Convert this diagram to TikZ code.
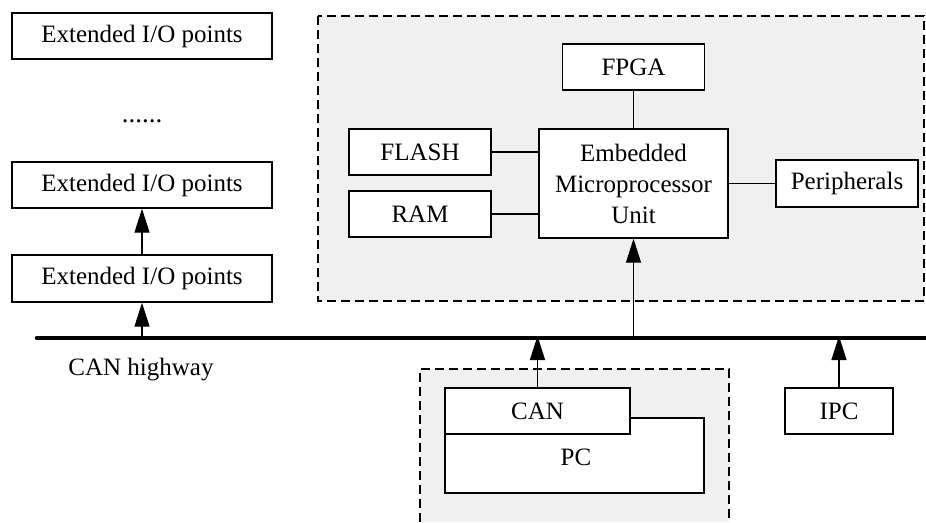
\documentclass[tikz,border=0pt]{standalone}
\usepackage{fontspec}
\setmainfont{Liberation Serif}
\usetikzlibrary{arrows.meta}
\definecolor{grpgray}{HTML}{F0F0F0}
\tikzset{
  box/.style={draw, fill=white, line width=1.4pt, inner sep=0pt, align=center},
  grp/.style={fill=grpgray, dash pattern=on 9pt off 5pt, line width=1.3pt},
  up/.style={-{Triangle[length=24pt,width=15pt]}, line width=1.3pt},
  wire/.style={line width=1.3pt},
}
\begin{document}
\begin{tikzpicture}[x=1pt,y=-1pt,font=\fontsize{25}{31}\selectfont]
\useasboundingbox (0,0) rectangle (926,522);
% dashed groups
\filldraw[grp] (318,16) rectangle (924,301);
\fill[grpgray] (420,369) rectangle (729,522);
\draw[grp] (420,522) -- (420,369) -- (729,369) -- (729,522);
% extended I/O
\node[box, minimum width=260, minimum height=46] (ext1) at (142,36) {Extended I/O points};
\node (dots) at (142,121) {\fontsize{27}{31}\selectfont ......};
\node[box, minimum width=260, minimum height=46] (ext2) at (142,185) {Extended I/O points};
\node[box, minimum width=260, minimum height=47] (ext3) at (142,278.5) {Extended I/O points};
% controller
\node[box, minimum width=189, minimum height=109] (mpu) at (633.5,183.5) {Embedded\\Microprocessor\\Unit};
\node[box, minimum width=142, minimum height=46] (fpga) at (633.5,67) {FPGA};
\node[box, minimum width=142, minimum height=46] (flash) at (420,152) {FLASH};
\node[box, minimum width=142, minimum height=46] (ram) at (420,214) {RAM};
\node[box, minimum width=142, minimum height=47] (periph) at (847,183.5) {Peripherals};
\draw[wire] (fpga) -- (mpu);
\draw[wire] (flash) -- (flash -| mpu.west);
\draw[wire] (ram) -- (ram -| mpu.west);
\draw[wire] (mpu) -- (periph);
% PC side
\node[box, minimum width=259, minimum height=75] (pc) at (574.5,455.5) {};
\node at (576,457) {PC};
\node[box, minimum width=185, minimum height=46] (can) at (537.5,411) {CAN};
\node[box, minimum width=108, minimum height=46] (ipc) at (839,411) {IPC};
% bus
\coordinate (busL) at (37,338);
\coordinate (busR) at (926,338);
\node (hw) at (141,370) {CAN highway};
\draw[up] (ext3) -- (ext2);
\draw[up] (ext3.south |- busL) -- (ext3.south);
\draw[up] (busL -| mpu.south) -- (mpu.south);
\draw[up] (can.north) -- ([yshift=2]can.north |- busL);
\draw[up] (ipc.north) -- ([yshift=2]ipc.north |- busL);
\draw[line width=4.5pt, line cap=round] (busL) -- (busR);
\end{tikzpicture}
\end{document}
